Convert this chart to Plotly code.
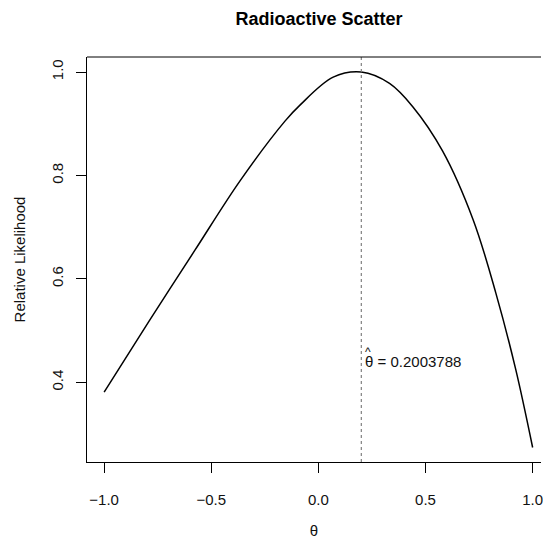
import plotly.graph_objects as go

# Values
theta = [-1.0, -0.791, -0.577, -0.365, -0.156, -0.086, 0.069, 0.2004,
         0.332, 0.4405, 0.580, 0.7226, 0.828, 0.921, 1.0]
rel_lik = [0.381, 0.518, 0.655, 0.790, 0.905, 0.936, 0.990, 1.0,
           0.978, 0.933, 0.847, 0.714, 0.573, 0.425, 0.274]
mle = 0.2003788
x_ticks = [-1.0, -0.5, 0.0, 0.5, 1.0]
x_ticktext = ["\u22121.0", "\u22120.5", "0.0", "0.5", "1.0"]
y_ticks = [0.4, 0.6, 0.8, 1.0]
y_ticktext = ["0.4", "0.6", "0.8", "1.0"]

FONT = "Liberation Sans, Arial, Helvetica, sans-serif"

fig = go.Figure()
fig.add_trace(go.Scatter(x=theta, y=rel_lik, mode="lines",
                         line=dict(color="black", width=1.5, shape="spline", smoothing=1.0),
                         showlegend=False, hoverinfo="skip"))

fig.add_shape(type="line", xref="x", yref="paper", x0=mle, x1=mle, y0=0, y1=1,
              line=dict(color="#808080", width=1.2, dash="dot"))
# top border of the box
fig.add_shape(type="line", xref="paper", yref="paper", x0=0, x1=1, y0=1, y1=1,
              line=dict(color="black", width=1))

label_y = 0.441
fig.add_annotation(x=mle + 0.0065, y=label_y, xref="x", yref="y", xanchor="left", yanchor="middle",
                   text="\u03b8 = " + str(mle), showarrow=False,
                   font=dict(family=FONT, size=15, color="#111"))
# hat over theta
fig.add_annotation(x=mle + 0.0065, y=label_y, xref="x", yref="y", xanchor="left", yanchor="middle",
                   text="^", showarrow=False, xshift=0.5, yshift=9,
                   font=dict(family=FONT, size=12, color="#111"))

fig.update_layout(
    width=543, height=540,
    margin=dict(l=87, r=0, t=57, b=78),
    paper_bgcolor="white", plot_bgcolor="white",
    font=dict(family=FONT, size=15, color="#111"),
    title=dict(text="<b>Radioactive Scatter</b>", x=319/543, xanchor="center",
               xref="container", y=1 - 18.5/540, yanchor="middle", yref="container",
               font=dict(family=FONT, size=18, color="black")),
    xaxis=dict(range=[-1.08, 1.039], tickvals=x_ticks, ticktext=x_ticktext,
               ticks="outside", ticklen=10, tickcolor="black", tickwidth=1,
               ticklabelstandoff=14,
               showline=True, linecolor="black", linewidth=1,
               showgrid=False, zeroline=False, ticklabeloverflow="allow",
               tickfont=dict(family=FONT, size=15, color="#111"),
               title=dict(text="\u03b8", standoff=18, font=dict(family=FONT, size=15, color="#111"))),
    yaxis=dict(range=[0.246, 1.029], tickvals=y_ticks, ticktext=y_ticktext,
               ticks="outside", ticklen=10, tickcolor="black", tickwidth=1, tickangle=-90,
               ticklabelstandoff=7,
               showline=True, linecolor="black", linewidth=1,
               showgrid=False, zeroline=False,
               tickfont=dict(family=FONT, size=15, color="#111"),
               title=dict(text="Relative Likelihood", standoff=19,
                          font=dict(family=FONT, size=15, color="#111"))),
)

fig.write_html("out.html")
